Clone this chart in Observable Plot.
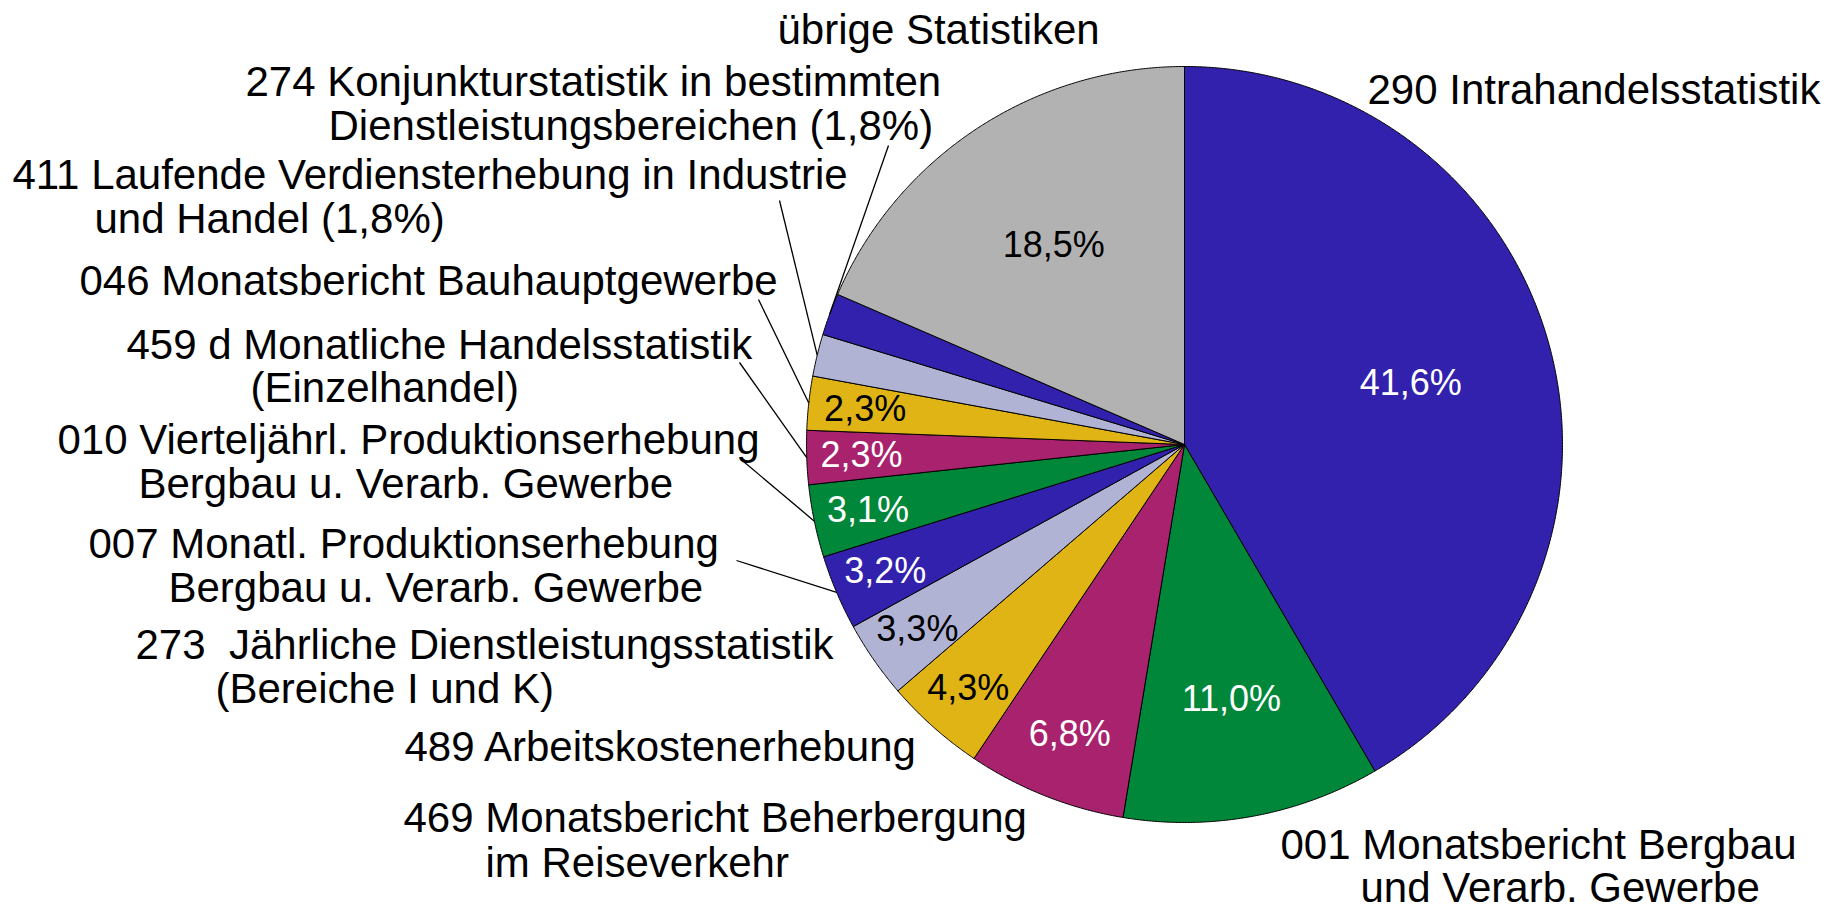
<!DOCTYPE html>
<html>
<head>
<meta charset="utf-8">
<script src="https://cdn.jsdelivr.net/npm/d3@7"></script>
<script src="https://cdn.jsdelivr.net/npm/@observablehq/plot@0.6"></script>
<style>
  html, body { margin: 0; padding: 0; background: #ffffff; }
  #chart svg { display: block; }
</style>
</head>
<body>
<div id="chart"></div>
<script>
// ---------- data ----------
const codes = ["290", "001", "469", "489", "273", "007", "010", "459 d", "046", "411", "274", "übrige"];
const shares = [41.6, 11.0, 6.8, 4.3, 3.3, 3.2, 3.1, 2.3, 2.3, 1.8, 1.8, 18.5];
const showPct = [true, true, true, true, true, true, true, true, true, false, false, true];
const labelLines = [
  ["290 Intrahandelsstatistik"],
  ["001 Monatsbericht Bergbau", "und Verarb. Gewerbe"],
  ["469 Monatsbericht Beherbergung", "im Reiseverkehr"],
  ["489 Arbeitskostenerhebung"],
  ["273\u00a0 Jährliche Dienstleistungsstatistik", "(Bereiche I und K)"],
  ["007 Monatl. Produktionserhebung", "Bergbau u. Verarb. Gewerbe"],
  ["010 Vierteljährl. Produktionserhebung", "Bergbau u. Verarb. Gewerbe"],
  ["459 d Monatliche Handelsstatistik", "(Einzelhandel)"],
  ["046 Monatsbericht Bauhauptgewerbe"],
  ["411 Laufende Verdiensterhebung in Industrie", "und Handel (1,8%)"],
  ["274 Konjunkturstatistik in bestimmten", "Dienstleistungsbereichen (1,8%)"],
  ["übrige Statistiken"]
];

// ---------- styles ----------
const sliceColors = ["#3121ac", "#00873a", "#a8226e", "#e1b416", "#b1b3d4", "#3121ac",
                     "#00873a", "#a8226e", "#e1b416", "#b1b3d4", "#3121ac", "#b2b2b2"];
const pctColors = ["white", "white", "white", "black", "black", "white",
                   "white", "white", "black", "black", "white", "black"];

// ---------- layout ----------
const W = 1831, H = 907;
const cx = 1184, cy = 444, R = 378;
// radial position of the in-slice percentage (fraction of radius)
const pctRadius = [0.62, 0.685, 0.825, 0.862, 0.86, 0.86, 0.855, 0.855, 0.85, 0, 0, 0.63];
// start [x, baseline] of every label line
const labelPos = [
  [[1367, 103]],
  [[1280, 858], [1360, 901]],
  [[403, 831], [485, 876]],
  [[404, 760]],
  [[135, 658], [215, 702]],
  [[88, 557], [168, 601]],
  [[57, 453], [138, 497]],
  [[126, 358], [250, 401]],
  [[79, 294]],
  [[12, 188], [94, 232]],
  [[245, 95], [328, 139]],
  [[777, 43]]
];
// leader line start points (label side); null = no leader
const leaderStart = [null, null, null, null, null,
  [736, 560], [743, 461], [739, 362], [758, 299], [779, 200], [888, 145], null];

// ---------- derived ----------
const arcs = d3.pie().sort(null).value(d => d)(shares);
const polar = (angle, r) => ({x: cx + r * Math.sin(angle), y: cy - r * Math.cos(angle)});

const slicePoints = [];
arcs.forEach((a, i) => {
  const span = a.endAngle - a.startAngle;
  const n = Math.max(2, Math.ceil(span / 0.004));
  slicePoints.push({id: i, x: cx, y: cy, fill: sliceColors[i]});
  for (let k = 0; k <= n; k++) {
    const p = polar(a.startAngle + span * k / n, R);
    slicePoints.push({id: i, x: p.x, y: p.y, fill: sliceColors[i]});
  }
  slicePoints.push({id: i, x: cx, y: cy, fill: sliceColors[i]});
});

const pctData = arcs.map((a, i) => {
  const mid = (a.startAngle + a.endAngle) / 2;
  const p = polar(mid, R * pctRadius[i]);
  return {x: p.x, y: p.y, text: shares[i].toFixed(1).replace(".", ",") + "%", fill: pctColors[i], show: showPct[i]};
}).filter(d => d.show);

const lineData = [];
labelLines.forEach((lines, i) => lines.forEach((t, j) => {
  lineData.push({x: labelPos[i][j][0], y: labelPos[i][j][1], text: t});
}));

const leaders = [];
arcs.forEach((a, i) => {
  if (!leaderStart[i]) return;
  const mid = (a.startAngle + a.endAngle) / 2;
  const p = polar(mid, R);
  leaders.push({x1: leaderStart[i][0], y1: leaderStart[i][1], x2: p.x, y2: p.y});
});

const chart = Plot.plot({
  width: W,
  height: H,
  margin: 0,
  x: {domain: [0, W], range: [0, W], axis: null},
  y: {domain: [0, H], range: [0, H], axis: null},
  color: {type: "identity"},
  style: {fontFamily: "'Liberation Sans', Arial, Helvetica, sans-serif", background: "#ffffff"},
  marks: [
    Plot.line(slicePoints, {x: "x", y: "y", z: "id", fill: "fill", stroke: "black", strokeWidth: 1, strokeLinejoin: "round"}),
    Plot.link(leaders, {x1: "x1", y1: "y1", x2: "x2", y2: "y2", stroke: "black", strokeWidth: 1.3}),
    Plot.text(pctData, {x: "x", y: "y", text: "text", fill: "fill", fontSize: 36, textAnchor: "middle"}),
    Plot.text(lineData, {x: "x", y: "y", text: "text", fill: "black", fontSize: 42, textAnchor: "start", lineAnchor: "bottom"})
  ]
});
document.getElementById("chart").appendChild(chart);
</script>
</body>
</html>
